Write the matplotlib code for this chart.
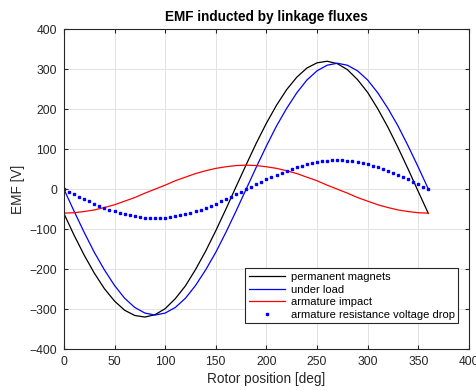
import numpy as np
import matplotlib.pyplot as plt

plt.rcParams['font.family'] = ['Liberation Sans', 'DejaVu Sans']

# rotor position (deg), 10 deg step for the lines
theta = list(range(0, 361, 10))

pm = [-61, -115, -165, -210, -249, -280, -303, -316, -320, -314,
      -299, -274, -242, -201, -155, -104, -50, 6, 61, 115,
      165, 210, 249, 280, 303, 316, 320, 314, 299, 274,
      242, 201, 155, 104, 50, -6, -61]

load = [0, -55, -108, -158, -202, -241, -273, -296, -310, -315,
        -310, -296, -273, -241, -202, -158, -108, -55, 0, 55,
        108, 158, 202, 241, 273, 296, 310, 315, 310, 296,
        273, 241, 202, 158, 108, 55, 0]

armature = [-60, -59, -56, -52, -46, -39, -30, -21, -10, 0,
            10, 21, 30, 39, 46, 52, 56, 59, 60, 59,
            56, 52, 46, 39, 30, 21, 10, 0, -10, -21,
            -30, -39, -46, -52, -56, -59, -60]

# resistance drop is sampled every 5 deg
theta_r = list(range(0, 361, 5))
r_drop = [0, -6, -13, -19, -25, -30, -36, -41, -46, -51,
          -55, -59, -62, -65, -68, -70, -71, -72, -72, -72,
          -71, -70, -68, -65, -62, -59, -55, -51, -46, -41,
          -36, -30, -25, -19, -13, -6, 0, 6, 13, 19,
          25, 30, 36, 41, 46, 51, 55, 59, 62, 65,
          68, 70, 71, 72, 72, 72, 71, 70, 68, 65,
          62, 59, 55, 51, 46, 41, 36, 30, 25, 19,
          13, 6, 0]

fig = plt.figure(figsize=(4.77, 3.90), dpi=100)
ax = fig.add_axes([0.134, 0.105, 0.849, 0.820])

ax.plot(theta, pm, color="black", linewidth=0.9, label="permanent magnets")
ax.plot(theta, load, color="blue", linewidth=0.9, label="under load")
ax.plot(theta, armature, color="red", linewidth=0.9, label="armature impact")
ax.plot(theta_r, r_drop, linestyle="none", marker="s", markersize=2.0,
        color="blue", label="armature resistance voltage drop")

ax.set_xlim(0, 400)
ax.set_ylim(-400, 400)
ax.set_xticks(np.arange(0, 401, 50))
ax.set_yticks(np.arange(-400, 401, 100))
ax.grid(True, color="#e3e3e3", linewidth=0.7)
ax.set_axisbelow(True)

ax.tick_params(direction="in", top=True, right=True, length=3,
               labelsize=8.7, colors="#262626", pad=5)
for s in ax.spines.values():
    s.set_color("#262626")
    s.set_linewidth(0.8)

ax.set_xlabel("Rotor position [deg]", fontsize=9.8, color="#262626", labelpad=3)
ax.set_ylabel("EMF [V]", fontsize=9.8, color="#262626", labelpad=3)
ax.set_title("EMF inducted by linkage fluxes", fontsize=9.8,
             fontweight="bold", pad=6)

leg = ax.legend(loc="lower right", bbox_to_anchor=(0.974, 0.08),
                fontsize=8, fancybox=False, framealpha=1,
                edgecolor="#262626", borderpad=0.3, labelspacing=0.25,
                handlelength=3.3, handletextpad=0.5, borderaxespad=0)
leg.get_frame().set_linewidth(0.8)

plt.savefig("out.png", dpi=100)
